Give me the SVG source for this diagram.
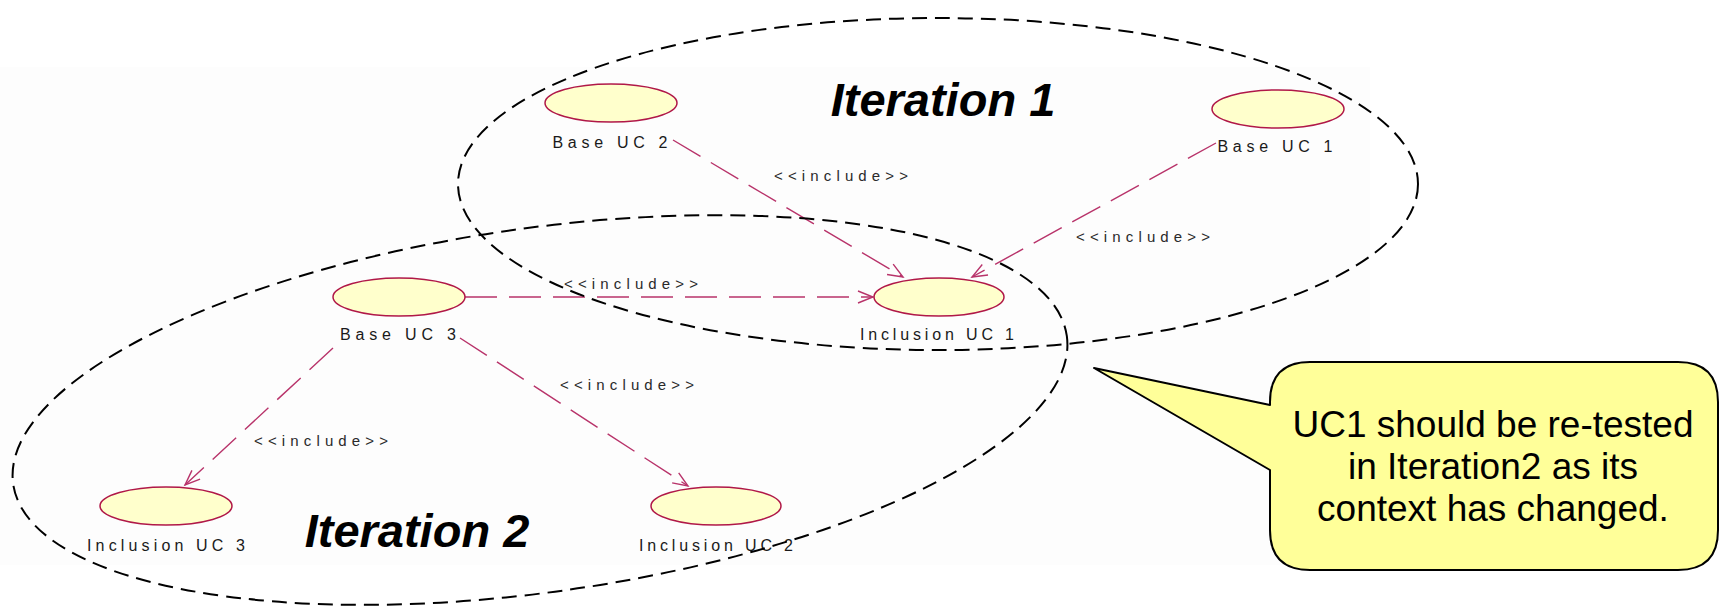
<svg xmlns="http://www.w3.org/2000/svg" width="1723" height="606" viewBox="0 0 1723 606">
  <style>
    .uc { fill: #ffffcc; stroke: #b01848; stroke-width: 1.5; }
    .uclabel { font-family: "Liberation Sans", Arial, sans-serif; font-size: 16px; fill: #1a1a1a; text-anchor: middle; }
    .stereo { font-family: "Liberation Sans", Arial, sans-serif; font-size: 15px; fill: #2a2a2a; text-anchor: middle; }
    .dep { fill: none; stroke: #b8336a; stroke-width: 1.4; stroke-dasharray: 32 12; marker-end: url(#open); }
    .scope { fill: none; stroke: #000; stroke-width: 2; stroke-dasharray: 15 8; }
    .title { font-family: "Liberation Sans", Arial, sans-serif; font-size: 47px; font-weight: bold; font-style: italic; fill: #000; text-anchor: middle; }
    .note { font-family: "Liberation Sans", Arial, sans-serif; font-size: 37px; fill: #000; text-anchor: middle; }
  </style>
  <defs>
    <marker id="open" viewBox="-16 -8 18 16" refX="0" refY="0" markerWidth="18" markerHeight="16" markerUnits="userSpaceOnUse" orient="auto" overflow="visible">
      <path d="M-15,-6 L0,0 L-15,6" fill="none" stroke="#b8336a" stroke-width="1.4"/>
    </marker>
  </defs>

  <rect width="1723" height="606" fill="#ffffff"/>
  <rect x="0" y="67" width="1370" height="498" fill="#fdfdfd"/>

  <!-- include dependencies -->
  <g id="connectors">
    <path class="dep" d="M673,140 L903,277"/>
    <path class="dep" d="M1216,143 L972,277"/>
    <path class="dep" d="M465,297 L873,297"/>
    <path class="dep" d="M460,338 L688,486"/>
    <path class="dep" d="M333,348 L185,485"/>
    <text class="stereo" x="841" y="181" textLength="134">&lt;&lt;include&gt;&gt;</text>
    <text class="stereo" x="1143" y="242" textLength="134">&lt;&lt;include&gt;&gt;</text>
    <text class="stereo" x="631" y="289" textLength="134">&lt;&lt;include&gt;&gt;</text>
    <text class="stereo" x="627" y="390" textLength="134">&lt;&lt;include&gt;&gt;</text>
    <text class="stereo" x="321" y="446" textLength="134">&lt;&lt;include&gt;&gt;</text>
  </g>

  <!-- use cases -->
  <g id="base-uc-2">
    <ellipse class="uc" cx="611" cy="103" rx="66" ry="19"/>
    <text class="uclabel" x="610" y="148" textLength="115">Base UC 2</text>
  </g>
  <g id="base-uc-1">
    <ellipse class="uc" cx="1278" cy="109" rx="66" ry="19"/>
    <text class="uclabel" x="1275" y="152" textLength="115">Base UC 1</text>
  </g>
  <g id="base-uc-3">
    <ellipse class="uc" cx="399" cy="297" rx="66" ry="19"/>
    <text class="uclabel" x="398" y="340" textLength="116">Base UC 3</text>
  </g>
  <g id="inclusion-uc-1">
    <ellipse class="uc" cx="939" cy="297" rx="65" ry="19"/>
    <text class="uclabel" x="937" y="340" textLength="154">Inclusion UC 1</text>
  </g>
  <g id="inclusion-uc-3">
    <ellipse class="uc" cx="166" cy="506" rx="66" ry="19"/>
    <text class="uclabel" x="166" y="551" textLength="158">Inclusion UC 3</text>
  </g>
  <g id="inclusion-uc-2">
    <ellipse class="uc" cx="716" cy="506" rx="65" ry="19"/>
    <text class="uclabel" x="716" y="551" textLength="154">Inclusion UC 2</text>
  </g>

  <!-- iteration scopes -->
  <g id="iteration-1">
    <ellipse class="scope" cx="938" cy="184" rx="480" ry="166"/>
    <text class="title" x="943" y="116">Iteration 1</text>
  </g>
  <g id="iteration-2">
    <ellipse class="scope" cx="540" cy="410" rx="532" ry="182" transform="rotate(-8 540 410)"/>
    <text class="title" x="417" y="547">Iteration 2</text>
  </g>

  <!-- callout note -->
  <g id="note">
    <path d="M1310,362 H1678 Q1718,362 1718,402 V530 Q1718,570 1678,570 H1310 Q1270,570 1270,530 V470 L1094,368 L1270,405 V402 Q1270,362 1310,362 Z" fill="#ffff99" stroke="#000" stroke-width="2" stroke-linejoin="round"/>
    <text class="note" x="1493" y="437">UC1 should be re-tested</text>
    <text class="note" x="1493" y="479">in Iteration2 as its</text>
    <text class="note" x="1493" y="521">context has changed.</text>
  </g>
</svg>
